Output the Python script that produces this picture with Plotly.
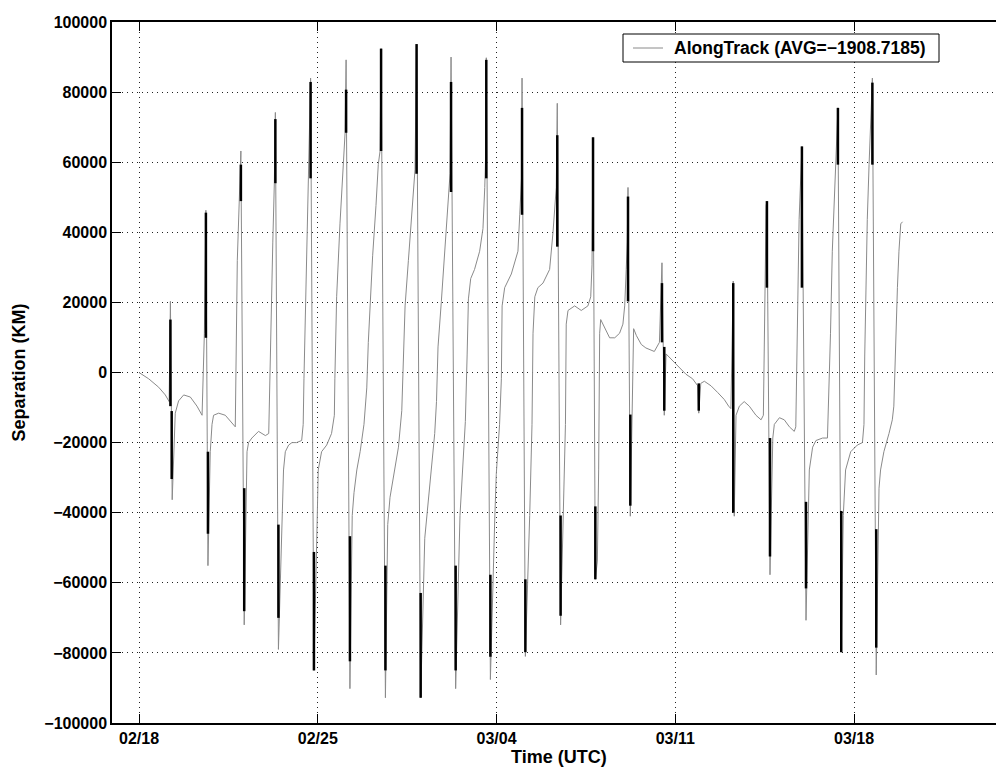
import pandas as pd
import plotly.graph_objects as go

t0 = pd.Timestamp("2003-02-18")

# Along-track separation: time in days after 02/18 00:00 UTC, separation in km
track_day = [
    0.00, 0.38, 0.77, 1.03, 1.18, 1.23, 1.30,
    1.42, 1.55, 1.75, 2.01, 2.27, 2.47, 2.56, 2.62, 2.70,
    2.79, 2.86, 2.92, 3.12, 3.38, 3.64, 3.77, 3.85, 3.94, 3.99, 4.12,
    4.23, 4.29, 4.42, 4.68, 4.95, 5.08, 5.13, 5.18, 5.24, 5.30, 5.34, 5.46,
    5.63, 5.66, 5.73, 5.86, 5.99, 6.17, 6.37, 6.43, 6.46, 6.50, 6.57, 6.63, 6.67, 6.72, 6.85,
    6.96, 7.02, 7.15, 7.35, 7.54, 7.65, 7.67, 7.74, 7.87, 8.00, 8.07, 8.11, 8.26,
    8.35, 8.42, 8.53, 8.66, 8.81, 8.92, 8.98, 9.05, 9.15, 9.28, 9.37, 9.44, 9.48, 9.65,
    9.74, 9.83, 9.99, 10.16, 10.29, 10.35, 10.42, 10.55, 10.68, 10.81, 10.87, 11.03,
    11.19, 11.32, 11.45, 11.58, 11.65, 11.71, 11.84, 11.97, 12.10, 12.18, 12.22, 12.40,
    12.57, 12.68, 12.78, 12.85, 12.90, 12.99, 13.14, 13.34, 13.47, 13.54, 13.58, 13.60, 13.76,
    13.93, 13.99, 14.12, 14.19, 14.22, 14.32, 14.58, 14.84, 14.91, 14.98, 15.00, 15.13,
    15.30, 15.36, 15.39, 15.43, 15.50, 15.62, 15.82, 16.08, 16.21, 16.34, 16.38, 16.51,
    16.61, 16.64, 16.70, 16.73, 16.80, 17.06, 17.32, 17.58, 17.69, 17.74, 17.76, 17.78, 17.87,
    17.95, 18.00, 18.04, 18.08, 18.24, 18.43, 18.63, 18.82, 18.95, 19.02, 19.08, 19.12, 19.15, 19.24,
    19.37, 19.48, 19.67, 19.85, 20.18, 20.38, 20.48, 20.57,
    20.64, 20.90, 21.16, 21.42, 21.68, 21.88, 21.92,
    22.00, 22.14, 22.40, 22.66, 22.92, 23.09, 23.18, 23.27, 23.31,
    23.38, 23.51, 23.70, 23.90, 24.16, 24.36, 24.45, 24.49, 24.53, 24.56, 24.59, 24.71,
    24.82, 24.88, 25.08, 25.27, 25.47, 25.66, 25.72, 25.79, 25.85, 25.96, 26.12,
    26.25, 26.38, 26.51, 26.77, 26.96, 27.03, 27.08, 27.15, 27.22, 27.29, 27.37, 27.50,
    27.58, 27.67, 27.87, 28.13, 28.33, 28.39, 28.42, 28.46, 28.52, 28.59, 28.65, 28.72, 28.87,
    28.94, 28.98, 29.04, 29.17, 29.37, 29.50, 29.56, 29.60, 29.63, 29.70, 29.76, 29.83, 29.90,
]
track_km = [
    0, -1800, -4200, -6400, -8300, 20300, -36300,
    -11600, -8100, -6400, -7000, -9600, -12200, 11200, 46300, -55100,
    -22600, -14800, -12200, -11600, -12200, -14200, -15500, 32000, 50200, 63200, -72000,
    -22600, -20000, -18700, -16800, -18000, -17400, 800, 24200, 37200, 54000, 74200, -79000,
    -39500, -27800, -22600, -20700, -20000, -20000, -19400, -14800, -1800, 11200, 30700, 50200, 63200, 84000, -85000,
    -40800, -27800, -22600, -20700, -17400, -12200, -1800, 21600, 42400, 59300, 68400, 89200, -90200,
    -40800, -34300, -27800, -22600, -14800, -4400, 8600, 20300, 33300, 47600, 59300, 63200, 92400, -92800,
    -43400, -35600, -29100, -21300, -10900, 4700, 19000, 32000, 43700, 58000, 93700, -92800,
    -47300, -36900, -27800, -17400, -8300, 7300, 20300, 34600, 46300, 56700, 90000, -90200,
    -40800, -28000, -14000, 5000, 21000, 26800, 29400, 34600, 41100, 52800, 63200, 89800, -87600,
    -42100, -29100, -14800, -1800, 19000, 24200, 28100, 34600, 45000, 55400, 84000, -81000,
    -40800, -26500, -14800, 11200, 21600, 24200, 25500, 29400, 39800, 52800, 76800, -72000,
    -42100, -34300, -14800, 13800, 17700, 19000, 17700, 19000, 21600, 30700, 43700, 67100, -59000,
    -53800, -27800, 11200, 15100, 12500, 9900, 9900, 11200, 13800, 19000, 29400, 37200, 52800, -41000,
    12500, 10500, 8000, 7000, 6000, 8600, 31300, -12200,
    5300, 3400, 1400, -500, -1800, -3800, -11600,
    -3100, -2500, -3800, -5700, -7700, -9600, -10300, 26100, -41000,
    -12200, -9600, -8300, -9600, -12200, -13500, -12200, 11200, 37200, 47600, 48900, -57700,
    -18700, -14800, -12900, -13500, -15500, -16800, -15500, 24200, 43700, 64500, -70700,
    -27800, -21300, -19400, -18700, -18700, -1800, 11200, 34600, 50200, 60600, 75500, -79800,
    -40800, -27800, -22600, -20700, -20000, -14800, 4700, 24200, 43700, 59300, 69700, 84000, -86300,
    -40800, -33000, -27800, -22600, -17400, -13500, -9600, 800, 11200, 24200, 34600, 42400, 43000,
]

# Densely sampled stretches around each crossing: day, upper and lower bound (km)
burst_day = [
    1.23, 1.28, 2.62, 2.70, 3.99, 4.12, 5.34, 5.46, 6.72, 6.85,
    8.11, 8.26, 9.48, 9.65, 10.87, 11.03, 12.22, 12.40, 13.60, 13.76,
    15.00, 15.13, 16.38, 16.51, 17.78, 17.87, 19.15, 19.24, 20.48, 20.57,
    21.92, 23.27, 24.59, 24.71, 25.96, 26.12, 27.37, 27.50, 28.72, 28.87,
]
burst_hi = [
    15100, -11000, 45600, -22600, 59300, -33000, 72300, -43400, 82900, -51200,
    80700, -46700, 92400, -55100, 93700, -62900, 82900, -55100, 89200, -57700,
    75500, -59000, 67700, -40800, 67100, -38200, 50200, -12000, 25500, 7300,
    -3100, 25500, 48900, -18700, 64500, -36900, 75500, -39500, 82700, -44700,
]
burst_lo = [
    -9600, -30400, 9900, -46000, 48900, -68100, 54000, -70000, 55400, -85000,
    68400, -82400, 63200, -85000, 56700, -92800, 51500, -85000, 55400, -81100,
    45000, -79800, 35900, -69400, 34600, -59000, 20300, -38000, 8600, -10900,
    -10900, -40000, 24200, -52500, 24200, -61600, 59300, -79800, 59300, -78500,
]

tick_dates = ["02/18", "02/25", "03/04", "03/11", "03/18"]
sep_ticks = [-100000, -80000, -60000, -40000, -20000, 0, 20000, 40000, 60000, 80000, 100000]
legend_label = "AlongTrack (AVG=\u22121908.7185)"

line_grey = "#8a8a8a"
font_family = "Liberation Sans, Arial, sans-serif"
px_per_day = 25.536
plot_w, plot_h = 884, 701   # plot area size in px
left, top = 112, 22         # plot area offset in px


def to_time(days):
    return t0 + pd.to_timedelta(days, unit="D")


def px_x(px):
    return (px - left) / plot_w


def px_y(py):
    return (top + plot_h - py) / plot_h


track_time = [to_time(d) for d in track_day]

burst_x, burst_y = [], []
for d, hi, lo in zip(burst_day, burst_hi, burst_lo):
    burst_x += [to_time(d), to_time(d), None]
    burst_y += [hi, lo, None]

fig = go.Figure()
fig.add_trace(go.Scatter(
    x=track_time, y=track_km, mode="lines",
    line=dict(color=line_grey, width=1),
    name=legend_label, showlegend=False,
))
fig.add_trace(go.Scatter(
    x=burst_x, y=burst_y, mode="lines",
    line=dict(color="black", width=2.5),
    showlegend=False, hoverinfo="skip",
))

bold = lambda size: dict(family=font_family, size=size, color="black", weight="bold")

fig.update_layout(
    width=996, height=773,
    margin=dict(l=left, r=0, t=top, b=773 - top - plot_h),
    paper_bgcolor="white", plot_bgcolor="white",
    font=dict(family=font_family, size=16, color="black"),
    showlegend=False,
    shapes=[
        # legend frame and line sample
        dict(type="rect", xref="paper", yref="paper",
             x0=px_x(623), x1=px_x(939), y0=px_y(62), y1=px_y(34),
             line=dict(color="black", width=1), fillcolor="white", layer="above"),
        dict(type="line", xref="paper", yref="paper",
             x0=px_x(633), x1=px_x(663), y0=px_y(48), y1=px_y(48),
             line=dict(color=line_grey, width=1), layer="above"),
    ],
    annotations=[
        dict(text=legend_label, x=px_x(672), y=px_y(48),
             xref="paper", yref="paper", showarrow=False,
             xanchor="left", yanchor="middle", font=bold(17.5)),
        dict(text="Time (UTC)", x=px_x(559), y=px_y(757),
             xref="paper", yref="paper", showarrow=False,
             xanchor="center", yanchor="middle", font=bold(18)),
        dict(text="Separation (KM)", x=px_x(18), y=0.5,
             xref="paper", yref="paper", showarrow=False, textangle=-90,
             xanchor="center", yanchor="middle", font=bold(18)),
    ],
)

fig.update_xaxes(
    range=[to_time(-27 / px_per_day), to_time(857 / px_per_day)],
    tickvals=[pd.Timestamp("2003-" + s.replace("/", "-")) for s in tick_dates],
    ticktext=tick_dates,
    ticks="inside", ticklen=9, tickwidth=1, tickcolor="black",
    showline=True, linecolor="black", linewidth=1.5, mirror="ticks",
    showgrid=True, gridcolor="#222222", gridwidth=1, griddash="1px,4px",
    zeroline=False, tickfont=bold(16),
)
fig.update_yaxes(
    range=[-100000, 100000],
    tickvals=sep_ticks,
    ticktext=[str(v).replace("-", "\u2212") for v in sep_ticks],
    ticks="inside", ticklen=9, tickwidth=1, tickcolor="black",
    showline=True, linecolor="black", linewidth=1.5, mirror=False,
    showgrid=True, gridcolor="#222222", gridwidth=1, griddash="1px,4px",
    zeroline=False, tickfont=bold(16),
)

fig.write_html("out.html")
